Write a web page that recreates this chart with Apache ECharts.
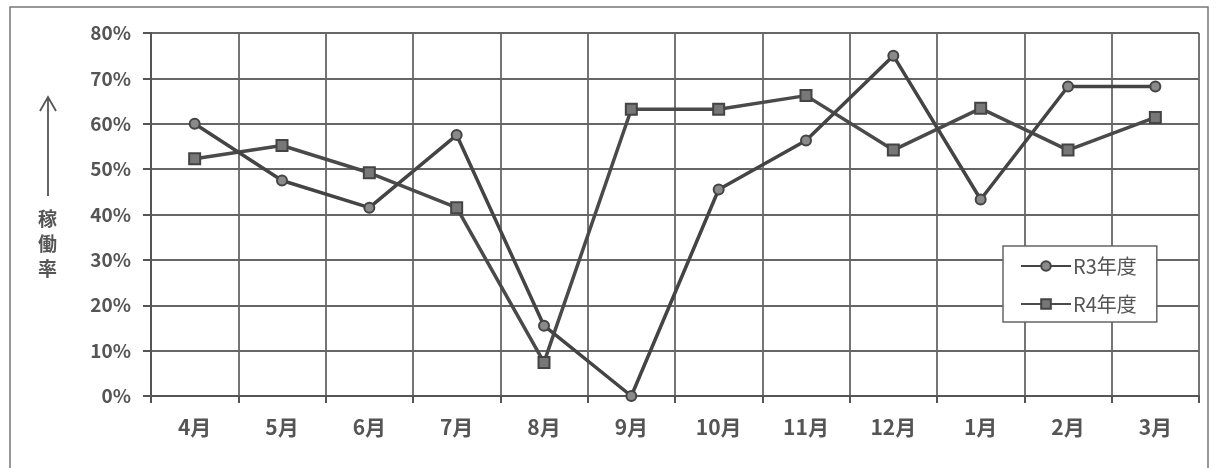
<!DOCTYPE html>
<html><head><meta charset="utf-8">
<script src="https://cdn.jsdelivr.net/npm/echarts@6/dist/echarts.min.js"></script>
<style>html,body{margin:0;padding:0;background:#fff}#c{width:1216px;height:468px}</style>
</head><body><div id="c"></div>
<script>
const categories = ['4月','5月','6月','7月','8月','9月','10月','11月','12月','1月','2月','3月'];
const r3Values = [60, 47.5, 41.5, 57.5, 15.5, 0, 45.5, 56.3, 75, 43.3, 68.2, 68.2];
const r4Values = [52.3, 55.2, 49.2, 41.5, 7.4, 63.2, 63.2, 66.2, 54.2, 63.4, 54.2, 61.4];
const seriesNames = ['R3年度', 'R4年度'];
const yTicks = [0, 10, 20, 30, 40, 50, 60, 70, 80];

const chart = echarts.init(document.getElementById('c'));
const txt = '#555';
const font = '"Noto Sans CJK JP", "DejaVu Sans", sans-serif';
chart.setOption({
  backgroundColor: '#fff',
  animation: false,
  grid: {left: 151, right: 17, top: 33, bottom: 72},
  legend: {
    left: 1003, top: 246, orient: 'vertical',
    width: 168, height: 88,
    padding: [10, 20, 8, 17],
    itemGap: 18,
    itemWidth: 50, itemHeight: 12,
    borderColor: '#666', borderWidth: 1.5,
    backgroundColor: '#fff',
    textStyle: {color: txt, fontSize: 20, fontFamily: font, padding: [0, 0, 0, -3]},
    data: seriesNames
  },
  xAxis: {
    type: 'category', data: categories, boundaryGap: true,
    axisLine: {lineStyle: {color: '#555', width: 2}},
    axisTick: {show: true, length: 7, lineStyle: {color: '#555', width: 2}},
    axisLabel: {color: txt, fontSize: 21, fontWeight: 'bold', margin: 21, fontFamily: font},
    splitLine: {show: true, interval: 0, lineStyle: {color: '#666', width: 1.8}}
  },
  yAxis: {
    type: 'value', min: 0, max: 80, interval: 10,
    axisLine: {show: true, lineStyle: {color: '#555', width: 2}},
    axisTick: {show: true, inside: false, length: 8, lineStyle: {color: '#555', width: 2}},
    axisLabel: {color: txt, fontSize: 19, fontWeight: 'bold', margin: 20, fontFamily: font,
      formatter: v => yTicks.includes(v) ? v + '%' : ''},
    splitLine: {show: true, lineStyle: {color: '#666', width: 1.8}}
  },
  series: [
    {
      name: seriesNames[0], type: 'line', data: r3Values,
      symbol: 'circle', symbolSize: 10,
      lineStyle: {color: '#444', width: 3.5},
      itemStyle: {color: '#8a8a8a', borderColor: '#444', borderWidth: 2},
      z: 3
    },
    {
      name: seriesNames[1], type: 'line', data: r4Values,
      symbol: 'rect', symbolSize: 11,
      lineStyle: {color: '#4a4a4a', width: 3.5},
      itemStyle: {color: '#777', borderColor: '#444', borderWidth: 2},
      z: 2
    }
  ],
  graphic: [
    {type: 'rect', shape: {x: 10, y: 7, width: 1198, height: 480},
     style: {fill: 'none', stroke: '#777', lineWidth: 1.5}, z: -1},
    {type: 'line', shape: {x1: 48, y1: 97, x2: 48, y2: 196},
     style: {stroke: '#555', lineWidth: 1.8}},
    {type: 'polyline', shape: {points: [[40, 111], [48, 97], [56, 111]]},
     style: {stroke: '#555', lineWidth: 1.8, fill: 'none'}},
    {type: 'text', left: 38, top: 206,
     style: {text: '稼\n働\n率', fill: '#555', font: 'bold 19px "Noto Sans CJK JP"', lineHeight: 25}}
  ]
});
</script>
</body></html>
